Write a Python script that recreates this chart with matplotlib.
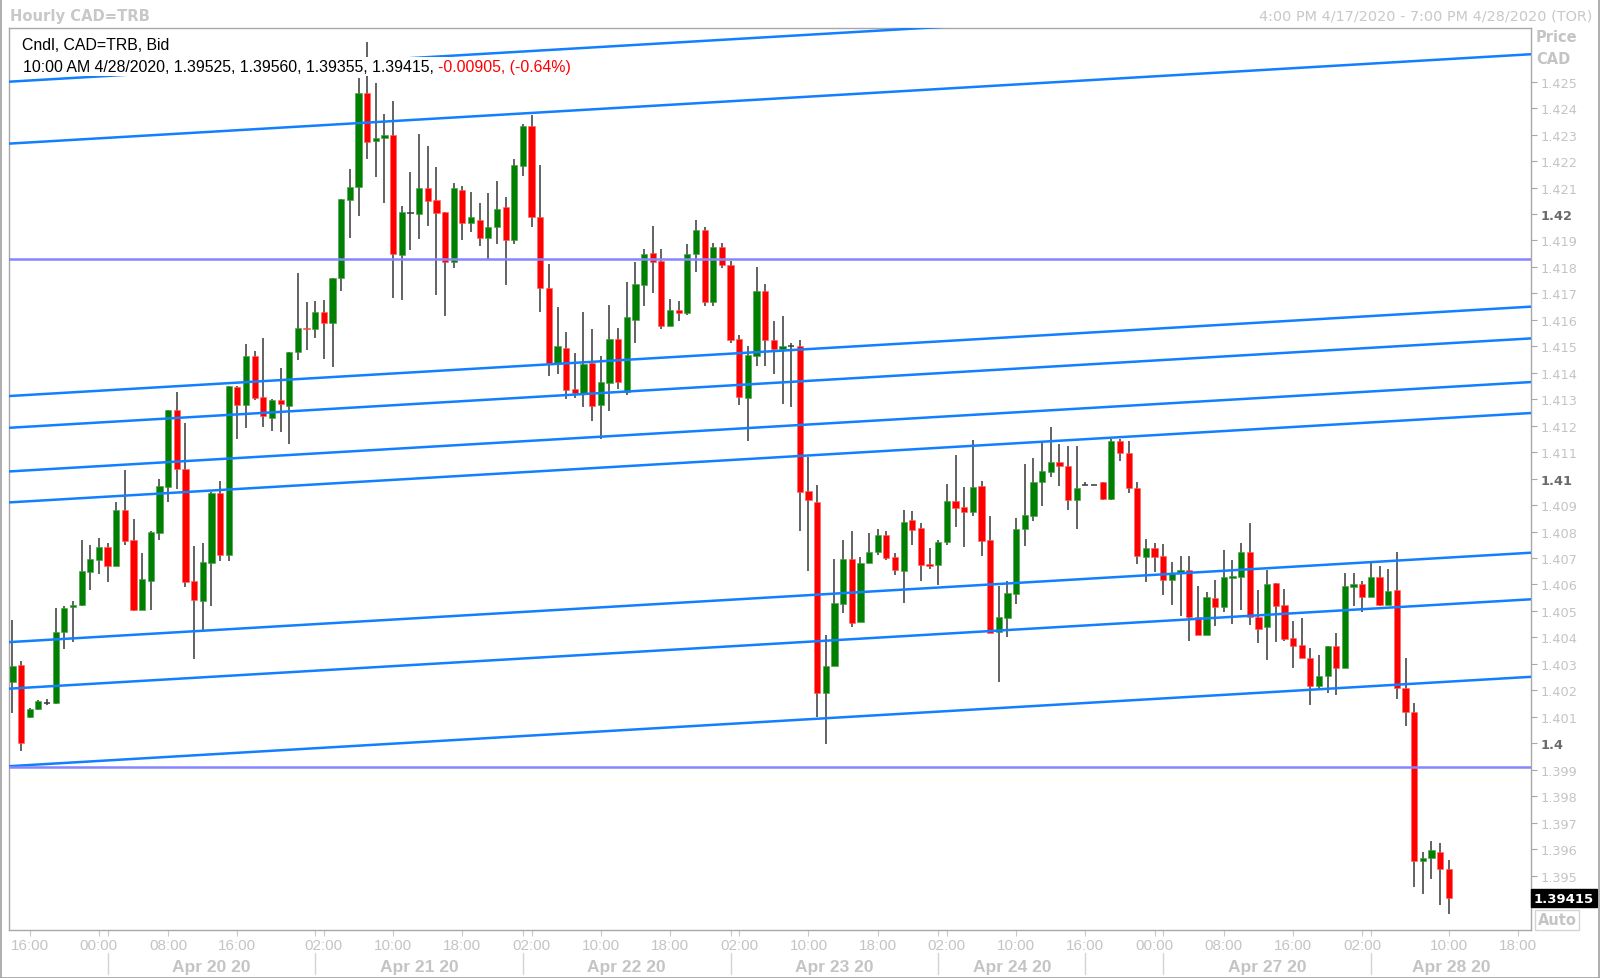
import numpy as np
import matplotlib
matplotlib.use('Agg')
import matplotlib.pyplot as plt
import matplotlib.transforms as mtransforms
from matplotlib.patches import Rectangle

# hourly OHLC, CAD=TRB bid
opens = [1.40230, 1.40296, 1.40101, 1.40129, 1.40152, 1.40152, 1.40419, 1.40513, 1.40523, 1.40649,
         1.40693, 1.40742, 1.40668, 1.40883, 1.40768, 1.40503, 1.40614, 1.40794, 1.40970, 1.41260,
         1.41038, 1.40614, 1.40538, 1.40683, 1.40946, 1.40711, 1.41347, 1.41279, 1.41462, 1.41307,
         1.41228, 1.41298, 1.41273, 1.41477, 1.41571, 1.41565, 1.41628, 1.41587, 1.41757, 1.42054,
         1.42102, 1.42457, 1.42275, 1.42286, 1.42298, 1.41846, 1.42003, 1.42000, 1.42097, 1.42053,
         1.42007, 1.41818, 1.42092, 1.41965, 1.41978, 1.41911, 1.41950, 1.42026, 1.41900, 1.42183,
         1.42334, 1.41988, 1.41722, 1.41437, 1.41493, 1.41338, 1.41323, 1.41436, 1.41280, 1.41360,
         1.41528, 1.41329, 1.41601, 1.41733, 1.41853, 1.41824, 1.41578, 1.41639, 1.41625, 1.41849,
         1.41941, 1.41669, 1.41877, 1.41809, 1.41528, 1.41305, 1.41462, 1.41708, 1.41524, 1.41490,
         1.41503, 1.41502, 1.40952, 1.40913, 1.40190, 1.40293, 1.40526, 1.40696, 1.40459, 1.40683,
         1.40721, 1.40787, 1.40702, 1.40652, 1.40843, 1.40812, 1.40677, 1.40675, 1.40759, 1.40916,
         1.40891, 1.40875, 1.40973, 1.40768, 1.40421, 1.40473, 1.40564, 1.40810, 1.40860, 1.40986,
         1.41026, 1.41064, 1.41049, 1.40920, 1.40977, 1.40976, 1.40988, 1.40923, 1.41141, 1.41095,
         1.40963, 1.40705, 1.40736, 1.40709, 1.40618, 1.40643, 1.40656, 1.40476, 1.40409, 1.40549,
         1.40513, 1.40626, 1.40629, 1.40721, 1.40478, 1.40438, 1.40606, 1.40522, 1.40396, 1.40373,
         1.40321, 1.40218, 1.40253, 1.40366, 1.40283, 1.40592, 1.40602, 1.40554, 1.40627, 1.40524,
         1.40580, 1.40208, 1.40119, 1.39554, 1.39565, 1.39588, 1.39525]
highs = [1.40466, 1.40309, 1.40135, 1.40162, 1.40169, 1.40512, 1.40517, 1.40537, 1.40768, 1.40749,
         1.40774, 1.40756, 1.40910, 1.41032, 1.40847, 1.40718, 1.40802, 1.40998, 1.41260, 1.41326,
         1.41209, 1.40746, 1.40757, 1.40948, 1.40990, 1.41351, 1.41351, 1.41507, 1.41482, 1.41530,
         1.41301, 1.41417, 1.41477, 1.41776, 1.41669, 1.41671, 1.41676, 1.41759, 1.42057, 1.42172,
         1.42516, 1.42649, 1.42494, 1.42378, 1.42428, 1.42030, 1.42157, 1.42303, 1.42259, 1.42179,
         1.42007, 1.42116, 1.42107, 1.42082, 1.42042, 1.42080, 1.42123, 1.42063, 1.42208, 1.42341,
         1.42375, 1.42187, 1.41811, 1.41648, 1.41553, 1.41475, 1.41629, 1.41566, 1.41463, 1.41658,
         1.41568, 1.41745, 1.41820, 1.41868, 1.41956, 1.41866, 1.41679, 1.41670, 1.41887, 1.41978,
         1.41950, 1.41889, 1.41889, 1.41824, 1.41543, 1.41503, 1.41799, 1.41736, 1.41596, 1.41614,
         1.41513, 1.41525, 1.41080, 1.40976, 1.40409, 1.40696, 1.40769, 1.40801, 1.40702, 1.40794,
         1.40809, 1.40801, 1.40719, 1.40882, 1.40876, 1.40832, 1.40736, 1.40769, 1.40979, 1.41089,
         1.40967, 1.41146, 1.40992, 1.40860, 1.40595, 1.40614, 1.40851, 1.41055, 1.41077, 1.41137,
         1.41194, 1.41131, 1.41122, 1.41122, 1.40988, 1.40976, 1.40988, 1.41150, 1.41150, 1.41141,
         1.40988, 1.40772, 1.40757, 1.40753, 1.40684, 1.40709, 1.40709, 1.40593, 1.40573, 1.40617,
         1.40731, 1.40693, 1.40755, 1.40832, 1.40580, 1.40656, 1.40606, 1.40583, 1.40461, 1.40472,
         1.40359, 1.40333, 1.40366, 1.40417, 1.40643, 1.40643, 1.40614, 1.40690, 1.40668, 1.40658,
         1.40721, 1.40321, 1.40152, 1.39588, 1.39632, 1.39622, 1.39560]
lows = [1.40116, 1.39969, 1.40095, 1.40125, 1.40144, 1.40150, 1.40356, 1.40383, 1.40519, 1.40579,
        1.40639, 1.40610, 1.40668, 1.40750, 1.40498, 1.40503, 1.40502, 1.40768, 1.40912, 1.40960,
        1.40589, 1.40318, 1.40429, 1.40519, 1.40690, 1.40690, 1.41150, 1.41192, 1.41297, 1.41194,
        1.41181, 1.41177, 1.41129, 1.41449, 1.41486, 1.41530, 1.41454, 1.41423, 1.41709, 1.41908,
        1.41991, 1.42208, 1.42141, 1.42040, 1.41681, 1.41676, 1.41864, 1.41905, 1.41954, 1.41694,
        1.41616, 1.41795, 1.41900, 1.41931, 1.41881, 1.41830, 1.41885, 1.41733, 1.41885, 1.42145,
        1.41950, 1.41631, 1.41389, 1.41396, 1.41301, 1.41305, 1.41270, 1.41216, 1.41150, 1.41257,
        1.41340, 1.41316, 1.41513, 1.41654, 1.41702, 1.41566, 1.41578, 1.41595, 1.41619, 1.41780,
        1.41651, 1.41654, 1.41795, 1.41513, 1.41278, 1.41144, 1.41425, 1.41425, 1.41396, 1.41282,
        1.41270, 1.40803, 1.40652, 1.40098, 1.39997, 1.40290, 1.40494, 1.40438, 1.40459, 1.40680,
        1.40711, 1.40694, 1.40636, 1.40530, 1.40750, 1.40614, 1.40658, 1.40599, 1.40750, 1.40818,
        1.40743, 1.40860, 1.40709, 1.40415, 1.40232, 1.40400, 1.40526, 1.40747, 1.40841, 1.40898,
        1.41005, 1.40971, 1.40881, 1.40810, 1.40975, 1.40976, 1.40920, 1.40920, 1.41068, 1.40946,
        1.40677, 1.40610, 1.40646, 1.40561, 1.40522, 1.40479, 1.40388, 1.40409, 1.40409, 1.40444,
        1.40497, 1.40451, 1.40503, 1.40447, 1.40379, 1.40316, 1.40381, 1.40388, 1.40283, 1.40321,
        1.40145, 1.40205, 1.40190, 1.40182, 1.40283, 1.40520, 1.40495, 1.40554, 1.40520, 1.40524,
        1.40167, 1.40066, 1.39455, 1.39430, 1.39487, 1.39389, 1.39355]
closes = [1.40293, 1.39999, 1.40129, 1.40158, 1.40152, 1.40422, 1.40512, 1.40524, 1.40652, 1.40695,
          1.40742, 1.40668, 1.40883, 1.40765, 1.40503, 1.40620, 1.40797, 1.40973, 1.41260, 1.41036,
          1.40611, 1.40540, 1.40686, 1.40946, 1.40711, 1.41351, 1.41279, 1.41462, 1.41304, 1.41235,
          1.41298, 1.41281, 1.41477, 1.41568, 1.41565, 1.41628, 1.41587, 1.41759, 1.42057, 1.42104,
          1.42457, 1.42273, 1.42287, 1.42298, 1.41849, 1.42006, 1.42004, 1.42097, 1.42051, 1.42004,
          1.41818, 1.42097, 1.41965, 1.41988, 1.41911, 1.41950, 1.42018, 1.41900, 1.42187, 1.42334,
          1.41988, 1.41720, 1.41437, 1.41500, 1.41335, 1.41323, 1.41434, 1.41274, 1.41367, 1.41528,
          1.41367, 1.41610, 1.41736, 1.41849, 1.41820, 1.41578, 1.41639, 1.41626, 1.41849, 1.41941,
          1.41669, 1.41877, 1.41808, 1.41525, 1.41310, 1.41467, 1.41708, 1.41525, 1.41490, 1.41503,
          1.41503, 1.40948, 1.40920, 1.40190, 1.40293, 1.40530, 1.40696, 1.40453, 1.40683, 1.40721,
          1.40787, 1.40700, 1.40656, 1.40837, 1.40806, 1.40675, 1.40668, 1.40762, 1.40916, 1.40888,
          1.40875, 1.40967, 1.40765, 1.40415, 1.40476, 1.40566, 1.40809, 1.40862, 1.40988, 1.41027,
          1.41064, 1.41049, 1.40920, 1.40963, 1.40977, 1.40976, 1.40923, 1.41141, 1.41095, 1.40963,
          1.40706, 1.40736, 1.40705, 1.40618, 1.40643, 1.40656, 1.40476, 1.40409, 1.40551, 1.40513,
          1.40627, 1.40631, 1.40721, 1.40476, 1.40432, 1.40602, 1.40520, 1.40394, 1.40369, 1.40321,
          1.40215, 1.40253, 1.40366, 1.40283, 1.40593, 1.40602, 1.40554, 1.40627, 1.40524, 1.40577,
          1.40208, 1.40119, 1.39554, 1.39566, 1.39597, 1.39525, 1.39415]

tick_pos = [2, 10, 18, 26, 36, 44, 52, 60, 68, 76, 84, 92, 100, 108, 116, 124, 132, 140, 148, 156, 166, 174]
tick_lbl = ['16:00', '00:00', '08:00', '16:00', '02:00', '10:00', '18:00', '02:00', '10:00', '18:00',
            '02:00', '10:00', '18:00', '02:00', '10:00', '16:00', '00:00', '08:00', '16:00', '02:00',
            '10:00', '18:00']
day_sep = [11, 35, 59, 83, 107, 124, 133, 157]
day_lbl = ['Apr 20 20', 'Apr 21 20', 'Apr 22 20', 'Apr 23 20', 'Apr 24 20', '', 'Apr 27 20', 'Apr 28 20']

# channel lines: price at left edge / right edge of the plot
trend_left = [1.42500, 1.42266, 1.41312, 1.41192, 1.41027, 1.40910, 1.40382, 1.40206, 1.39913]
trend_right = [1.42838, 1.42604, 1.41650, 1.41530, 1.41365, 1.41248, 1.40720, 1.40544, 1.40251]
hlines = [1.41830, 1.39910]

last_price = 1.39415

XMIN, XMAX = -0.45, 175.5
GREEN, RED = '#008000', '#ff0000'
GRAY = '#c4c4c4'

fig = plt.figure(figsize=(16, 9.79), dpi=100)
ax = fig.add_axes([8.5 / 1600, (979 - 930.5) / 979, (1531 - 8.5) / 1600, (930.5 - 28.5) / 979])
ax.set_xlim(XMIN, XMAX)
ax.set_ylim(1.39296, 1.42705)

o = np.array(opens)
h = np.array(highs)
l = np.array(lows)
c = np.array(closes)
x = np.arange(len(o))

# wicks
ax.vlines(x, l, h, color='#383838', lw=1.1, zorder=2)

up = c > o + 0.00003
dn = c < o - 0.00003
doji = ~(up | dn)
bot = np.minimum(o, c)
hgt = np.maximum(np.abs(c - o), 0.00005)
ax.bar(x[up], hgt[up], bottom=bot[up], width=0.72, color=GREEN, edgecolor='#4a9a4a', lw=0.4, zorder=2.5)
ax.bar(x[dn], hgt[dn], bottom=bot[dn], width=0.72, color=RED, edgecolor='#ff6060', lw=0.4, zorder=2.5)
ax.hlines(c[doji], x[doji] - 0.36, x[doji] + 0.36, color='#383838', lw=1.1, zorder=2.5)

for a, b in zip(trend_left, trend_right):
    ax.plot([XMIN, XMAX], [a, b], color='#127fff', lw=1.8, zorder=3, solid_capstyle='butt')
for y in hlines:
    ax.axhline(y, color='#8585ff', lw=1.8, zorder=3)

# spines
for s in ax.spines.values():
    s.set_color('#a8a8a8')
    s.set_linewidth(1.0)

# y axis on the right
yt = np.round(np.arange(1.395, 1.4251, 0.001), 3)
ylbl = []
for v in yt:
    if abs(v * 100 - round(v * 100)) < 1e-6:
        ylbl.append(('%.2f' % v).rstrip('0'))
    else:
        ylbl.append('%.3f' % v)
ax.yaxis.tick_right()
ax.set_yticks(yt)
ax.set_yticklabels(ylbl)
ax.tick_params(axis='y', direction='out', length=4, width=0.8, color='#a8a8a8',
               labelcolor=GRAY, labelsize=9.3, pad=3)
for t, v in zip(ax.get_yticklabels(), yt):
    if abs(v * 100 - round(v * 100)) < 1e-6:
        t.set_fontweight('bold')
        t.set_color('#6a6a6a')

# x axis
ax.set_xticks(tick_pos)
ax.set_xticklabels(tick_lbl, family='Liberation Sans')
ax.set_xticks(day_sep, minor=True)
ax.tick_params(axis='x', which='major', direction='out', length=4, width=0.8, color='#c8c8c8',
               labelcolor=GRAY, labelsize=11, pad=2)
ax.tick_params(axis='x', which='minor', direction='out', length=4, width=0.8, color='#c8c8c8')

trans = mtransforms.blended_transform_factory(ax.transData, ax.transAxes)
bounds = day_sep + [XMAX]
for i, d in enumerate(day_sep):
    ax.plot([d, d], [-0.026, -0.049], transform=trans, color='#d4d4d4', lw=1, clip_on=False)
    if day_lbl[i]:
        ax.text((d + bounds[i + 1]) / 2, -0.0405, day_lbl[i], transform=trans, ha='center', va='center',
                fontsize=12.5, fontweight='bold', color=GRAY, family='Liberation Sans')

# legend text top-left
ax.text((22 - 8.5) / (1531 - 8.5), 1 - (46 - 28.5) / 902, 'Cndl, CAD=TRB, Bid',
        transform=ax.transAxes, ha='left', va='center', fontsize=11.4, family='Liberation Sans',
        color='black', zorder=6)
t1 = ax.text((23 - 8.5) / (1531 - 8.5), 1 - (67.5 - 28.5) / 902,
             '10:00 AM 4/28/2020, 1.39525, 1.39560, 1.39355, 1.39415, ',
             transform=ax.transAxes, ha='left', va='center', fontsize=11.4, family='Liberation Sans',
             color='black', zorder=6,
             bbox=dict(boxstyle='square,pad=0.12', fc='white', ec='none'))
ax.annotate('-0.00905, (-0.64%)', xy=(1, 0.5), xycoords=t1, ha='left', va='center',
            fontsize=11.4, family='Liberation Sans', color='#ff0000', zorder=6,
            bbox=dict(boxstyle='square,pad=0.12', fc='white', ec='none'))

# last price tag
ytrans = mtransforms.blended_transform_factory(ax.transAxes, ax.transData)
ax.text(1.002, last_price, '1.39415', transform=ytrans, ha='left', va='center', fontsize=9.5,
        fontweight='bold', color='white', clip_on=False,
        bbox=dict(boxstyle='square,pad=0.2', fc='black', ec='black'))

# header / corner texts
fig.text(10 / 1600, 1 - 16 / 979, 'Hourly CAD=TRB', ha='left', va='center', fontsize=10.6,
         fontweight='bold', color='#c8c8c8')
fig.text(1592 / 1600, 1 - 16 / 979, '4:00 PM 4/17/2020 - 7:00 PM 4/28/2020 (TOR)', ha='right',
         va='center', fontsize=10.4, color='#c8c8c8', family='DejaVu Sans')
fig.text(1536 / 1600, 1 - 38 / 979, 'Price', ha='left', va='center', fontsize=10.5,
         fontweight='bold', color=GRAY)
fig.text(1536 / 1600, 1 - 59 / 979, 'CAD', ha='left', va='center', fontsize=10.5,
         fontweight='bold', color=GRAY)
fig.text(1557 / 1600, 1 - 921 / 979, 'Auto', ha='center', va='center', fontsize=10.5,
         fontweight='bold', color=GRAY,
         bbox=dict(boxstyle='square,pad=0.15', fc='white', ec='#d4d4d4', lw=1))

fig.patches.append(Rectangle((0.0005, 0.0005), 0.999, 0.999, transform=fig.transFigure,
                             fill=False, ec='#a0a0a0', lw=1.2))

fig.savefig('out.png', dpi=100)
